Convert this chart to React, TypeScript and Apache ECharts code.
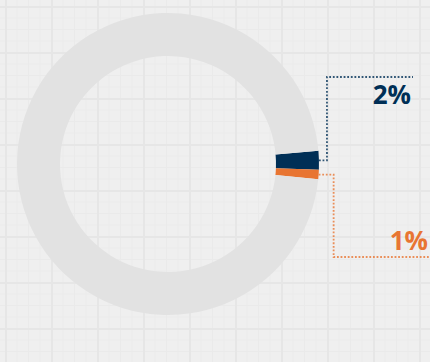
import React, { useEffect, useRef } from "react";
import * as echarts from "echarts";

const categories = ["A", "B", "Rest"];
const values = [2, 1, 97];
const colors = ["#002f56", "#e87532", "#e2e2e2"];
const labelTexts = ["2%", "1%"];

const W = 430;
const H = 362;
const CX = 168;
const CY = 164;
const R_IN = 108;
const R_OUT = 151;
const START = 5;

export default function App() {
  const ref = useRef<HTMLDivElement>(null);
  useEffect(() => {
    if (!ref.current) return;
    const chart = echarts.init(ref.current, undefined, { renderer: "svg" });
    const total = values.reduce((a, b) => a + b, 0);
    const mids: number[] = [];
    let acc = START;
    values.forEach((v) => {
      const span = (v / total) * 360;
      mids.push(acc - span / 2);
      acc -= span;
    });
    const pt = (deg: number) => [
      CX + R_OUT * Math.cos((deg * Math.PI) / 180),
      CY - R_OUT * Math.sin((deg * Math.PI) / 180),
    ];
    const p0 = pt(mids[0]);
    const p1 = pt(mids[1]);
    const e0x = p0[0] + 8;
    const e1x = p1[0] + 15;
    const top0 = 77;
    const bot1 = 257;
    const lineStyle = (c: string) => ({
      stroke: c,
      lineWidth: 1.8,
      lineDash: [1.8, 1.8],
      fill: null,
      opacity: 0.8,
    });
    const graphic: any[] = [
      {
        type: "polyline",
        shape: { points: [[p0[0], p0[1]], [e0x, p0[1]], [e0x, top0], [413, top0]] },
        style: lineStyle(colors[0]),
        silent: true,
      },
      {
        type: "polyline",
        shape: { points: [[p1[0], p1[1]], [e1x, p1[1]], [e1x, bot1], [432, bot1]] },
        style: lineStyle(colors[1]),
        silent: true,
      },
      {
        type: "text",
        x: 411,
        y: 94,
        style: {
          text: labelTexts[0],
          fill: colors[0],
          font: 'bold 26px "Open Sans", sans-serif',
          align: "right",
          verticalAlign: "middle",
        },
      },
      {
        type: "text",
        x: 428,
        y: 240,
        style: {
          text: labelTexts[1],
          fill: colors[1],
          font: 'bold 26px "Open Sans", sans-serif',
          align: "right",
          verticalAlign: "middle",
        },
      },
    ];
    chart.setOption({
      animation: false,
      backgroundColor: "transparent",
      series: [
        {
          type: "pie",
          center: [CX, CY],
          radius: [R_IN, R_OUT],
          startAngle: START,
          clockwise: true,
          silent: true,
          label: { show: false },
          labelLine: { show: false },
          itemStyle: { borderWidth: 0 },
          data: categories.map((c, i) => ({
            name: c,
            value: values[i],
            itemStyle: { color: colors[i] },
          })),
        },
      ],
      graphic,
    });
    return () => chart.dispose();
  }, []);
  return (
    <div
      ref={ref}
      style={{
        position: "fixed",
        left: 0,
        top: 0,
        width: W,
        height: H,
        backgroundColor: "#efefef",
        backgroundImage:
          "linear-gradient(to right, #e6e6e6 2px, transparent 2px)," +
          "linear-gradient(to bottom, #e6e6e6 2px, transparent 2px)," +
          "linear-gradient(to right, #eaeaea 1px, transparent 1px)," +
          "linear-gradient(to bottom, #eaeaea 1px, transparent 1px)",
        backgroundSize: "46px 46px, 46px 46px, 11.5px 11.5px, 11.5px 11.5px",
        backgroundPosition: "5px 6px, 5px 6px, 5px 6px, 5px 6px",
      }}
    />
  );
}
